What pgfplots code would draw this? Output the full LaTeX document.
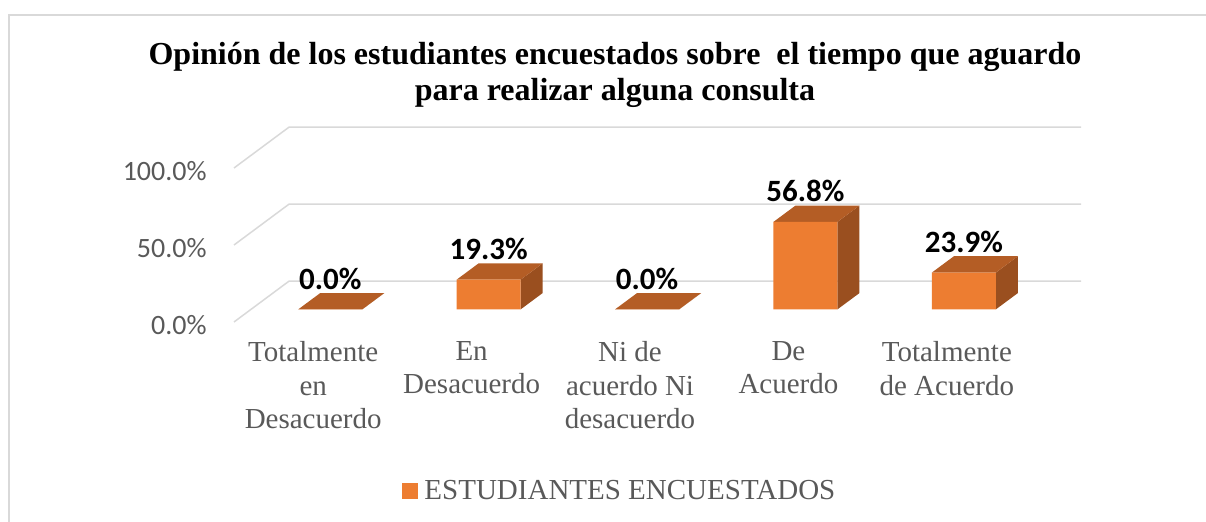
\documentclass[border=0pt]{standalone}
\usepackage{pgfplots}
\pgfplotsset{compat=1.18}
\usepackage{pgfplotstable}
\usepackage{fontspec}
\setmainfont{Liberation Serif}
\newfontfamily\calibri{Carlito}
\definecolor{barfront}{HTML}{ED7D31}
\definecolor{bartop}{HTML}{B45D25}
\definecolor{barside}{HTML}{9A4F1F}
\definecolor{gridc}{HTML}{D9D9D9}
\definecolor{txt}{HTML}{595959}

\pgfplotstableread{
idx val
0 0.0
1 19.3
2 0.0
3 56.8
4 23.9
}\datatable

\begin{document}
\begin{tikzpicture}
\path[use as bounding box] (0,0) rectangle (603pt,261pt);
\draw[gridc, line width=1pt] (4.25pt,0) -- (4.25pt,253.25pt) -- (603pt,253.25pt);
\node[anchor=base, font=\bfseries\fontsize{16}{18}\selectfont] at (307.5pt,228.5pt) {Opinión de los estudiantes encuestados sobre~ el tiempo que aguardo};
\node[anchor=base, font=\bfseries\fontsize{16}{18}\selectfont] at (307.5pt,210.5pt) {para realizar alguna consulta};
\begin{axis}[
  at={(117pt,100pt)}, anchor=south west,
  scale only axis, width=423.5pt, height=97.4pt,
  xmin=-0.5, xmax=4.847, ymin=0, ymax=126.5,
  clip=false,
  axis line style={draw=none},
  tick style={draw=none},
  ytick={0,50,100},
  yticklabels={0.0\%,50.0\%,100.0\%},
  yticklabel style={anchor=east, inner sep=0pt, xshift=-13.5pt, yshift=-1.5pt,
    font=\calibri\fontsize{14}{16}\selectfont, text=txt},
  xtick={0,1,2,3,4},
  xticklabels={{Totalmente\\en\\Desacuerdo},{En\\Desacuerdo},{Ni de\\acuerdo Ni\\desacuerdo},{De\\Acuerdo},{Totalmente\\de Acuerdo}},
  xticklabel style={anchor=north, align=center, inner sep=0pt, yshift=-9.5pt,
    font=\fontsize{14.5}{16.75}\selectfont, text=txt},
  legend style={at={(0.454,-0.8676)}, anchor=center, draw=none, fill=none,
    font=\fontsize{14.5}{16}\selectfont, text=txt, inner sep=0pt,
    /tikz/column sep=3.5pt, nodes={inner sep=0pt}},
  legend image code/.code={\fill[barfront] (0pt,-3.75pt) rectangle (7.5pt,3.75pt);},
]
% gridlines (3D back wall + left wall)
\pgfplotsinvokeforeach{0,50,100}{
  \addplot[gridc, line width=0.75pt, forget plot] coordinates {(-0.5,#1) (-0.153,#1+26.5) (4.847,#1+26.5)};
}
% 3D bars
\pgfplotsinvokeforeach{0,...,4}{
  \pgfplotstablegetelem{#1}{val}\of\datatable
  \pgfmathsetmacro\bv{\pgfplotsretval}
  \pgfmathsetmacro\xl{#1+0.1076-0.202}
  \pgfmathsetmacro\xr{#1+0.1076+0.202}
  \pgfmathsetmacro\xlb{\xl+0.139}
  \pgfmathsetmacro\xrb{\xr+0.139}
  \pgfmathsetmacro\yb{8.2}
  \pgfmathsetmacro\yt{8.2+\bv}
  \pgfmathsetmacro\ybb{8.2+10.6}
  \pgfmathsetmacro\ytb{8.2+10.6+\bv}
  \edef\doplots{%
    \noexpand\addplot[fill=barside,draw=none,forget plot] coordinates {(\xr,\yb) (\xrb,\ybb) (\xrb,\ytb) (\xr,\yt) (\xr,\yb)};
    \noexpand\addplot[fill=bartop,draw=none,forget plot] coordinates {(\xl,\yt) (\xr,\yt) (\xrb,\ytb) (\xlb,\ytb) (\xl,\yt)};
    \noexpand\addplot[fill=barfront,draw=none,forget plot] coordinates {(\xl,\yb) (\xr,\yb) (\xr,\yt) (\xl,\yt) (\xl,\yb)};
  }%
  \doplots
}
% data labels
\addplot[draw=none, mark=none, forget plot,
  point meta=explicit,
  nodes near coords={\pgfmathprintnumber[fixed,fixed zerofill,precision=1,assume math mode=true]{\pgfplotspointmeta}\%},
  every node near coord/.append style={anchor=base, inner sep=0pt, yshift=2pt,
    font=\calibri\bfseries\fontsize{15.5}{17}\selectfont, text=black}]
  table[x expr=\thisrow{idx}+0.1076, y expr=\thisrow{val}+18.8, meta=val] {\datatable};
\addlegendimage{barfront}
\addlegendentry{ESTUDIANTES ENCUESTADOS}
\end{axis}
\end{tikzpicture}
\end{document}
